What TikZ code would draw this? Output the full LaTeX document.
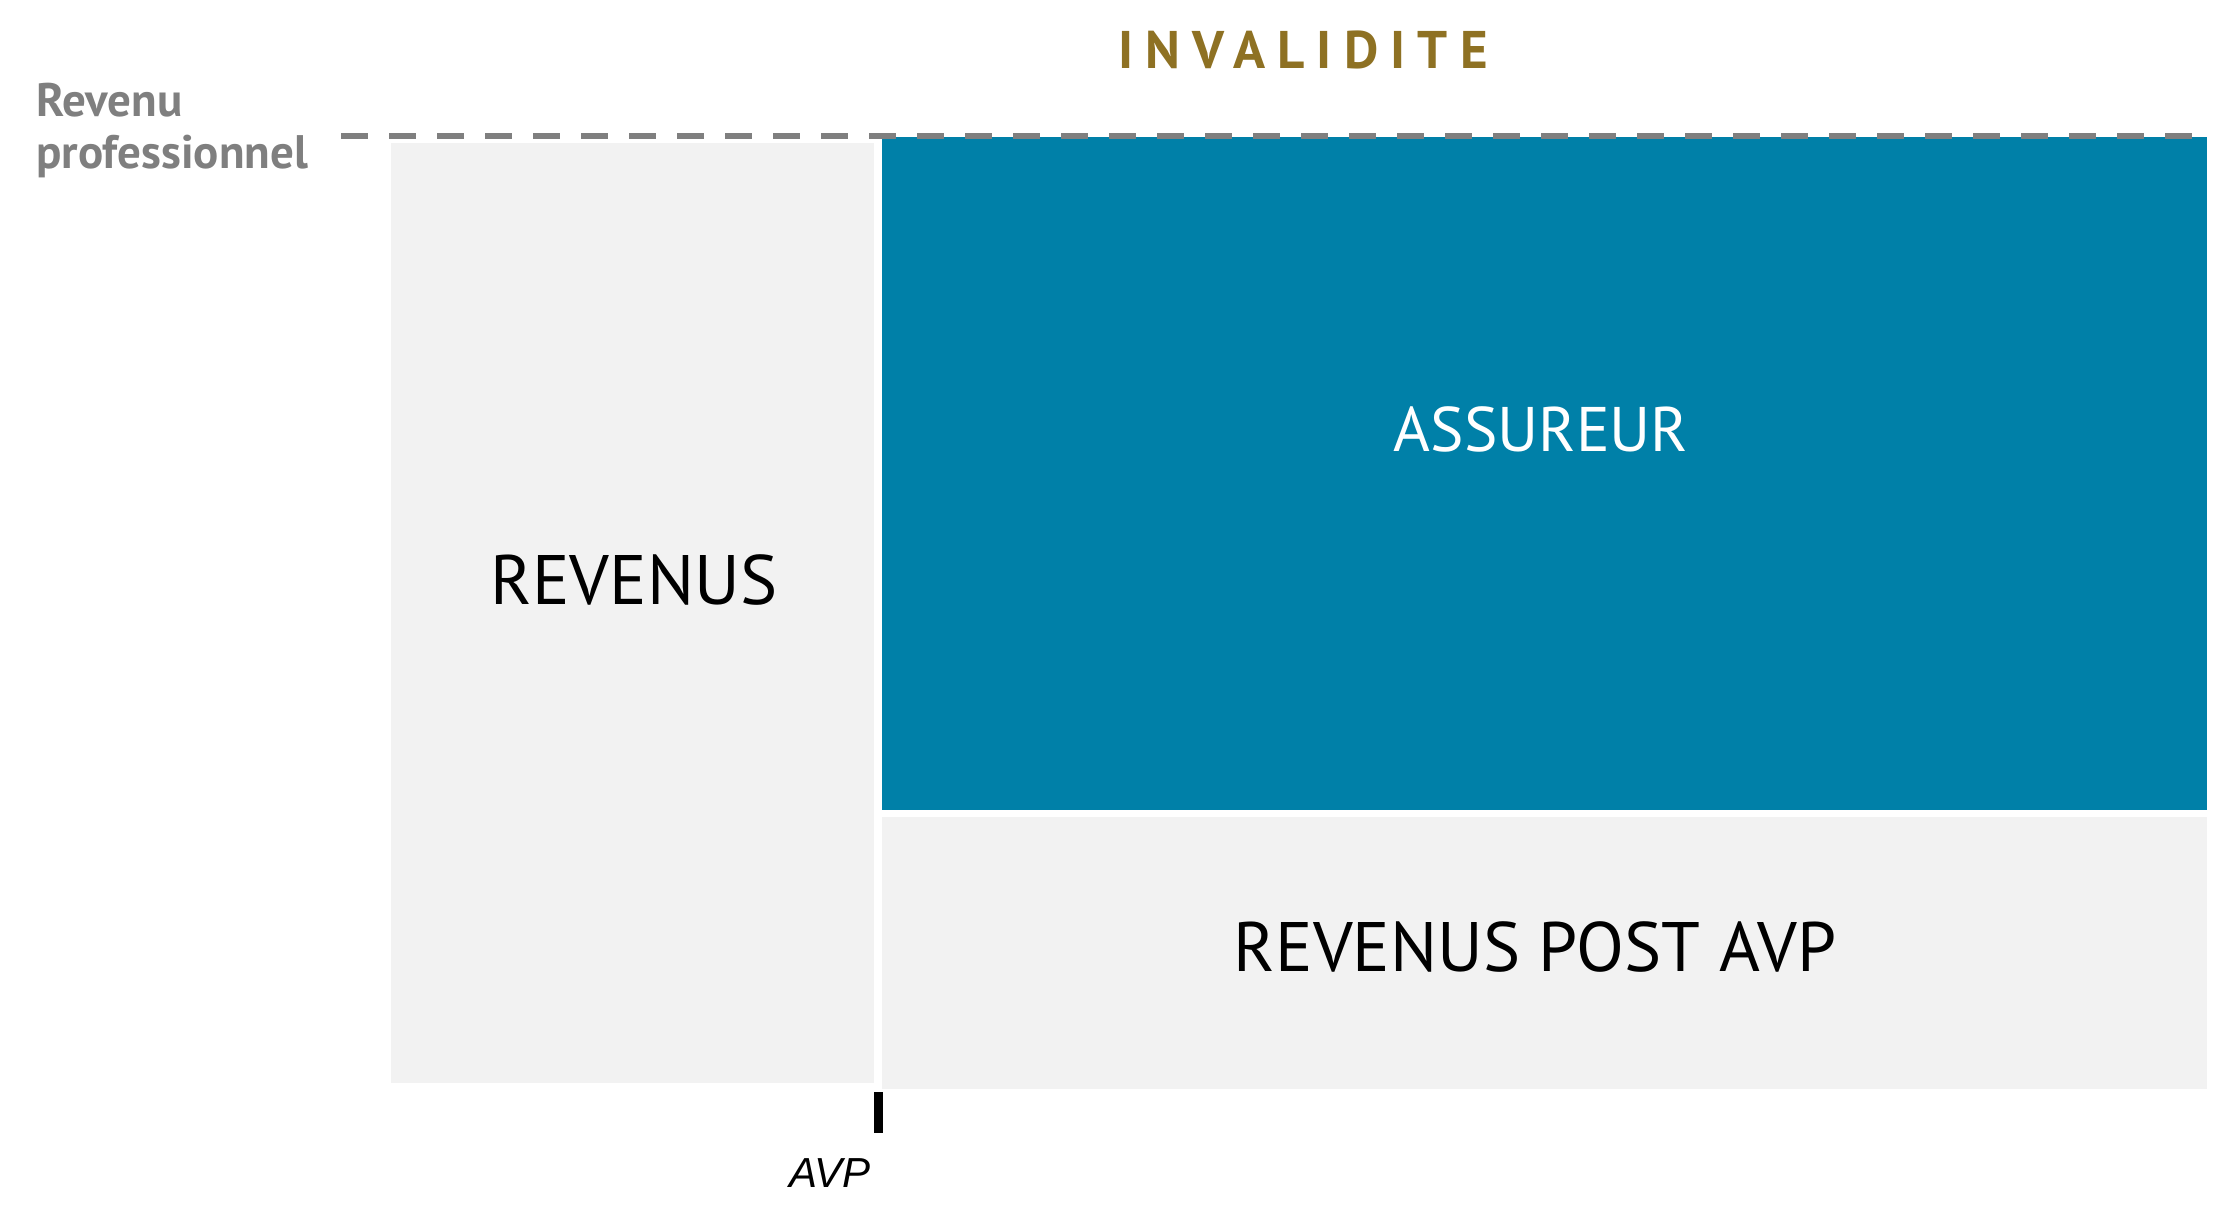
\documentclass[tikz,border=0pt]{standalone}
\usepackage{fontspec}
\setmainfont{PT Sans}
\newfontfamily\avpfont{Liberation Sans}
\usetikzlibrary{positioning}
\definecolor{boxgray}{HTML}{F2F2F2}
\definecolor{insblue}{HTML}{0080A8}
\definecolor{linegray}{HTML}{7F7F7F}
\definecolor{gold}{HTML}{8E7123}

\begin{document}
\begin{tikzpicture}[x=1pt, y=-1pt]
  \tikzstyle{panel} = [rectangle, inner sep=0, anchor=north west, fill=boxgray]
  \tikzstyle{big}   = [anchor=base, inner sep=0, font=\fontsize{70}{84}\selectfont]
  \tikzstyle{side}  = [anchor=base west, inner sep=0, text=linegray, font=\bfseries\fontsize{47}{56}\selectfont]

  \useasboundingbox (0,0) rectangle (2218,1228);

  % the three blocks
  \node[panel, minimum width=483pt, minimum height=940pt]                (rev)  at (391,143) {};
  \node[panel, fill=insblue, minimum width=1325pt, minimum height=673pt] (ass)  at (882,137) {};
  \node[panel, minimum width=1325pt, minimum height=272pt]               (post) at (882,817) {};

  \node[big]                                                  (revt)  at (634,604) {REVENUS};
  \node[big, text=white, font=\fontsize{63}{76}\selectfont]   (asst)  at (1541,451) {ASSUREUR};
  \node[big]                                                  (postt) at (1535,971) {REVENUS POST AVP};

  % top line and titles
  \coordinate (dl) at (341,136);
  \coordinate (dr) at (2207,136);
  \draw[linegray, line width=6.5pt, dash pattern=on 27pt off 21pt] (dl) -- (dr);

  \node[anchor=base, inner sep=0, text=gold,
        font=\bfseries\fontsize{53}{64}\selectfont\addfontfeatures{LetterSpace=23}] (inv) at (1303,69) {INVALIDITE};
  \node[side] (rvn)  at (36,117) {Revenu};
  \node[side] (prof) at (36,168) {professionnel};

  % AVP mark
  \coordinate (tt) at (878,1092);
  \coordinate (tb) at (878,1133);
  \draw[line width=9pt] (tt) -- (tb);
  \node[anchor=base, inner sep=0, font=\avpfont\itshape\fontsize{42}{50}\selectfont] (avp) at (830,1187) {AVP};
\end{tikzpicture}
\end{document}
